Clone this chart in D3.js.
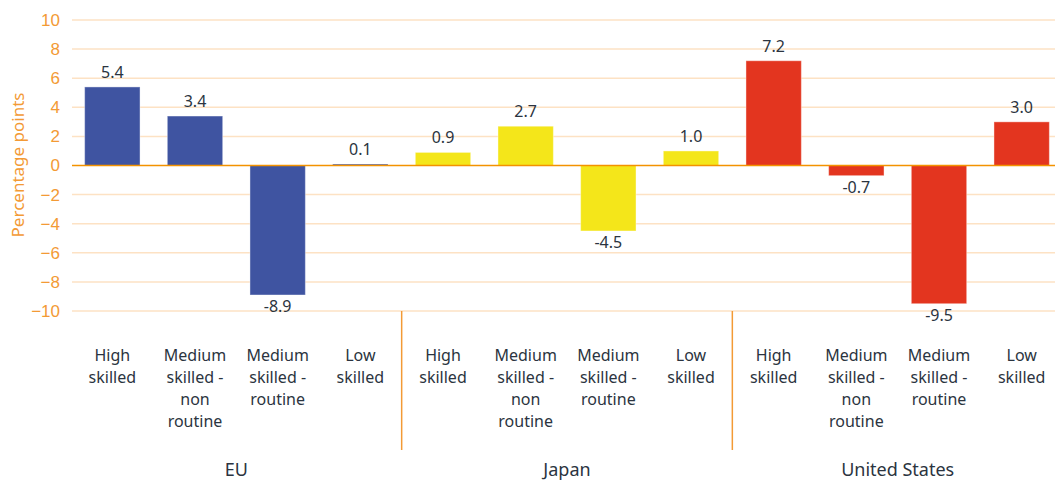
<!doctype html>
<html>
<head>
<meta charset="UTF-8">
<style>
  body { margin: 0; background: #fff; font-family: "Noto Sans", "Open Sans", sans-serif; }
  .tick text { fill: #f39a35; font-size: 17px; }
  .lbl { fill: #2b3440; font-size: 16px; }
</style>
</head>
<body>
<svg id="chart" width="1055" height="482"></svg>
<script src="https://d3js.org/d3.v7.min.js"></script>
<script>
// data
const groups = ["EU", "Japan", "United States"];
const skills = ["High|skilled", "Medium|skilled -|non|routine", "Medium|skilled -|routine", "Low|skilled"];
const euValues = [5.4, 3.4, -8.9, 0.1];
const japanValues = [0.9, 2.7, -4.5, 1.0];
const usValues = [7.2, -0.7, -9.5, 3.0];
const groupColors = ["#3f54a1", "#f4e61a", "#e3351f"];
const yTicks = [-10, -8, -6, -4, -2, 0, 2, 4, 6, 8, 10];

const rows = [];
[euValues, japanValues, usValues].forEach((vals, g) => {
    vals.forEach((v, i) => rows.push({ key: g + "-" + i, group: g, skill: skills[i], value: v }));
});

const svg = d3.select("#chart");
const x = d3.scaleBand().domain(rows.map(d => d.key)).range([71, 1063]).paddingInner(0.33).paddingOuter(0.165);
const y = d3.scaleLinear().domain([-10, 10]).range([311, 20]);

// gridlines
svg.append("g").selectAll("line").data(yTicks.filter(t => t !== 0)).join("line")
    .attr("x1", 72).attr("x2", 1055)
    .attr("y1", d => y(d)).attr("y2", d => y(d))
    .attr("stroke", "#fde2c4").attr("stroke-width", 1.5);

// y axis labels
const yAxis = svg.append("g").attr("transform", "translate(72,0)")
    .call(d3.axisLeft(y).tickValues(yTicks).tickSize(0).tickPadding(12));
yAxis.select(".domain").remove();

svg.append("text")
    .attr("transform", "translate(24,165) rotate(-90)")
    .attr("text-anchor", "middle")
    .attr("fill", "#f39a35").attr("font-size", 17)
    .text("Percentage points");

// bars
svg.append("g").selectAll("rect").data(rows).join("rect")
    .attr("x", d => x(d.key))
    .attr("width", x.bandwidth())
    .attr("y", d => y(Math.max(0, d.value)))
    .attr("height", d => Math.abs(y(d.value) - y(0)))
    .attr("fill", d => groupColors[d.group])
    .attr("stroke", "#ffffff").attr("stroke-opacity", 0.4).attr("stroke-width", 1);

// zero line
svg.append("line")
    .attr("x1", 72).attr("x2", 1055).attr("y1", y(0)).attr("y2", y(0))
    .attr("stroke", "#f39200").attr("stroke-width", 1.5);

// value labels
svg.append("g").selectAll("text").data(rows).join("text")
    .attr("class", "lbl")
    .attr("text-anchor", "middle")
    .attr("x", d => x(d.key) + x.bandwidth() / 2)
    .attr("y", d => d.value >= 0 ? y(d.value) - 9 : y(d.value) + 17)
    .text(d => d.value.toFixed(1));

// category labels
const cat = svg.append("g").selectAll("text").data(rows).join("text")
    .attr("class", "lbl")
    .attr("text-anchor", "middle")
    .attr("x", d => x(d.key) + x.bandwidth() / 2)
    .attr("y", 361);
cat.selectAll("tspan").data(d => d.skill.split("|").map(s => ({ s, cx: x(d.key) + x.bandwidth() / 2 })))
    .join("tspan")
    .attr("x", d => d.cx)
    .attr("dy", (d, i) => i === 0 ? 0 : 22)
    .text(d => d.s);

// group separators
const step = x.step();
svg.append("g").selectAll("line").data([4, 8]).join("line")
    .attr("x1", d => x(rows[d].key) - step * x.paddingInner() / 2)
    .attr("x2", d => x(rows[d].key) - step * x.paddingInner() / 2)
    .attr("y1", 311).attr("y2", 450)
    .attr("stroke", "#f39a35").attr("stroke-width", 1.5);

// group labels
svg.append("g").selectAll("text").data(groups).join("text")
    .attr("class", "lbl")
    .style("font-size", "18px")
    .attr("text-anchor", "middle")
    .attr("x", (d, g) => {
        const a = x(rows[g * 4].key), b = x(rows[g * 4 + 3].key) + x.bandwidth();
        return (a + b) / 2;
    })
    .attr("y", 476)
    .text(d => d);
</script>
</body>
</html>
